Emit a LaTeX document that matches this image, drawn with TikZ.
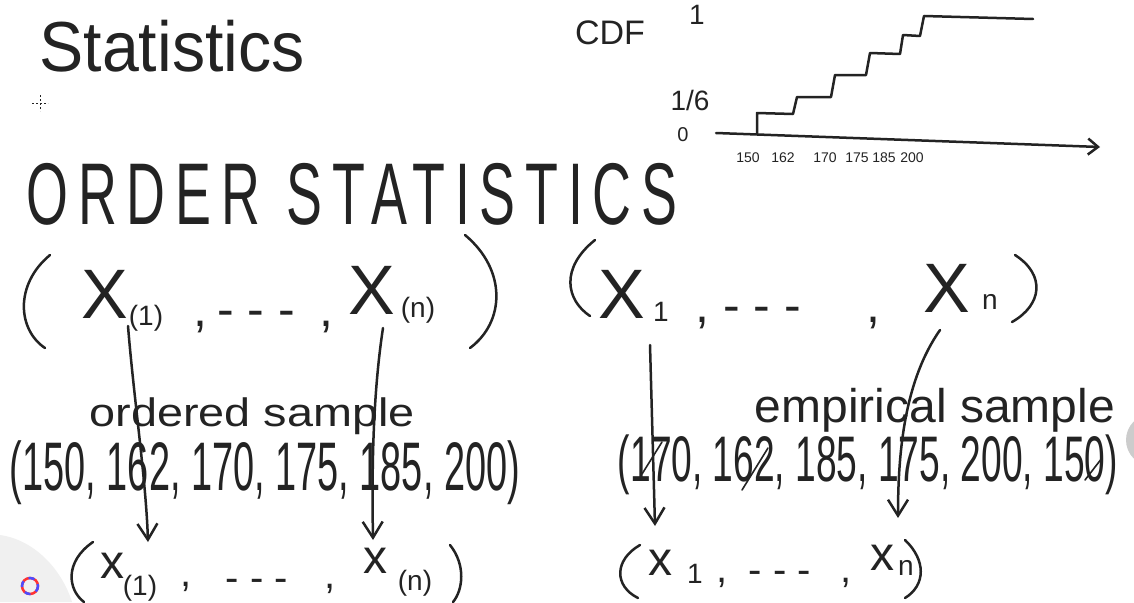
\documentclass[tikz,border=0pt]{standalone}
\usepackage{fontspec}
\setmainfont{Liberation Sans}
\usetikzlibrary{arrows.meta}
\definecolor{ink}{RGB}{35,35,35}
\tikzset{
  pen/.style={draw=ink, line width=2.5pt, line cap=round, line join=round},
  txt/.style={inner sep=0pt, text=ink},
  arr/.style={pen, -{Straight Barb[length=16pt,width=20pt,line width=2.5pt]}},
  axarr/.style={pen, -{Straight Barb[length=10pt,width=16pt,line width=2.5pt]}},
  big/.style={txt, font=\fontsize{70}{70}\selectfont},
  mid/.style={txt, font=\fontsize{48}{48}\selectfont},
  subs/.style={txt, font=\fontsize{28}{28}\selectfont},
  punct/.style={txt, anchor=base, font=\fontsize{50}{50}\selectfont},
  spunct/.style={txt, anchor=base, font=\fontsize{40}{40}\selectfont},
  tick/.style={txt, font=\fontsize{14}{14}\selectfont},
}
\newcommand{\fitbox}[3]{\resizebox*{#1pt}{#2pt}{#3}}
\begin{document}
\begin{tikzpicture}[x=1pt,y=-1pt]
\useasboundingbox (0,0) rectangle (1134,602);
\fill[white] (0,0) rectangle (1134,602);

% UI artefacts
\fill[gray!12] (0,535) .. controls (35,540) and (62,570) .. (72,602) -- (0,602) -- cycle;
\draw[line width=2.5pt, red!80] (30,586) circle (8);
\draw[line width=2.5pt, blue!70, dash pattern=on 6pt off 6pt] (30,586) circle (8);
\fill[gray!40] (1152,440) circle (26);

% crosshair
\draw[draw=ink, line width=0.8pt, dash pattern=on 2pt off 2pt] (32,103) -- (48,103);
\draw[draw=ink, line width=0.8pt, dash pattern=on 2pt off 2pt] (40,95) -- (40,111);

% titles
\node[txt] (stat) at (172,46) {\fitbox{265}{52}{Statistics}};
\node[txt] (order) at (352,194) {\fitbox{650}{62}{\addfontfeature{LetterSpace=18}ORDER\hspace{0.5em}STATISTICS}};

% CDF plot
\node[txt, font=\fontsize{34}{34}\selectfont] (cdf) at (610,33) {CDF};
\node[txt, font=\fontsize{28}{28}\selectfont] (one) at (697,15) {1};
\node[txt, font=\fontsize{28}{28}\selectfont] (sixth) at (690,100) {1/6};
\node[txt, font=\fontsize{20}{20}\selectfont] (zero) at (683,135) {0};
\coordinate (ax0) at (716,133);
\coordinate (ax1) at (1100,147);
\draw[axarr] (ax0) -- (ax1);
\draw[pen] (757,134) -- (757,113) -- (793,114) -- (797,97) -- (831,97) -- (835,75)
  -- (866,75) -- (870,53) -- (900,54) -- (903,35) -- (920,36) -- (924,16) -- (1033,19);
\node[tick] (t1) at (748,158) {150};
\node[tick] (t2) at (783,158) {162};
\node[tick] (t3) at (825,158) {170};
\node[tick] (t4) at (857,158) {175};
\node[tick] (t5) at (884,158) {185};
\node[tick] (t6) at (912,158) {200};

% left tuple X_(1) ... X_(n)
\draw[pen] (50,255) .. controls (14,285) and (18,330) .. (45,348);
\draw[pen] (465,235) .. controls (507,270) and (505,322) .. (470,348);
\node[big] (X1) at (105,294) {X};
\node[subs] (X1s) at (146,318) {(1)};
\node[punct] (c1) at (200,326) {,};
\node[punct] (d1) at (256,326) {- - -};
\node[punct] (c2) at (326,326) {,};
\node[big] (Xn) at (372,290) {X};
\node[subs] (Xns) at (418,310) {(n)};

% right tuple X_1 ... X_n
\draw[pen] (595,240) .. controls (560,268) and (566,300) .. (590,316);
\draw[pen] (1015,255) .. controls (1046,275) and (1042,305) .. (1012,322);
\node[big] (Y1) at (622,294) {X};
\node[subs] (Y1s) at (661,312) {1};
\node[punct] (c3) at (702,322) {,};
\node[punct] (d2) at (762,322) {- - -};
\node[punct] (c4) at (873,322) {,};
\node[big] (Yn) at (947,288) {X};
\node[subs] (Yns) at (990,302) {n};

% middle texts
\node[txt] (ord) at (252,416) {\fitbox{325}{37}{ordered sample}};
\node[txt] (osamp) at (265,473) {\fitbox{510}{64}{(150, 162, 170, 175, 185, 200)}};
\node[txt] (emp) at (935,410) {\fitbox{360}{44}{empirical sample}};
\node[txt] (esamp) at (868,465) {\fitbox{500}{60}{(170, 162, 185, 175, 200, 150)}};
% correction strokes
\draw[pen, line width=1.6pt] (642,474) -- (662,442);
\draw[pen, line width=1.6pt] (742,490) -- (768,448);
\draw[pen, line width=1.6pt] (1085,480) -- (1102,458);

% bottom left tuple x_(1) ... x_(n)
\draw[pen] (93,542) .. controls (64,562) and (68,590) .. (84,602);
\draw[pen] (450,545) .. controls (466,565) and (463,590) .. (453,602);
\node[mid] (x1) at (112,566) {x};
\node[subs] (x1s) at (140,588) {(1)};
\node[spunct] (c5) at (186,586) {,};
\node[spunct] (d3) at (257,591) {- - -};
\node[spunct] (c6) at (330,588) {,};
\node[mid] (xn) at (375,561) {x};
\node[subs] (xns) at (415,583) {(n)};

% bottom right tuple x_1 ... x_n
\draw[pen] (640,545) .. controls (614,560) and (614,586) .. (638,598);
\draw[pen] (905,540) .. controls (926,560) and (926,585) .. (905,598);
\node[mid] (z1) at (660,563) {x};
\node[subs] (z1s) at (695,574) {1};
\node[spunct] (c7) at (722,582) {,};
\node[spunct] (d4) at (780,583) {- - -};
\node[spunct] (c8) at (846,582) {,};
\node[mid] (zn) at (882,558) {x};
\node[subs] (zns) at (906,568) {n};

% arrows
\coordinate (a1s) at (128,326);
\coordinate (a1e) at (148,542);
\draw[arr] (a1s) .. controls (134,400) and (146,480) .. (a1e);
\coordinate (a2s) at (383,328);
\coordinate (a2e) at (373,540);
\draw[arr] (a2s) .. controls (372,400) and (372,480) .. (a2e);
\coordinate (a3s) at (650,345);
\coordinate (a3e) at (655,526);
\draw[arr] (a3s) -- (a3e);
\coordinate (a4s) at (940,330);
\coordinate (a4e) at (898,518);
\draw[arr] (a4s) .. controls (905,380) and (898,450) .. (a4e);
\end{tikzpicture}
\end{document}
